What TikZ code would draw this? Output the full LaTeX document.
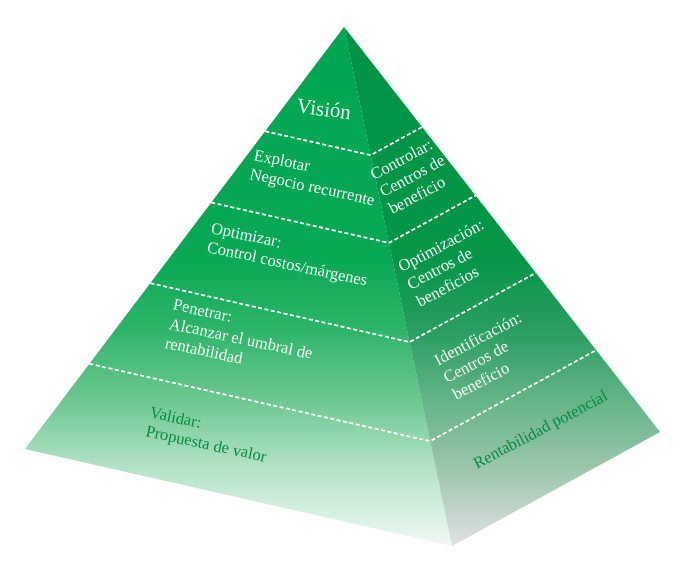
\documentclass[tikz,border=0pt]{standalone}
\usepackage{fontspec}
\setmainfont{Liberation Serif}
\usetikzlibrary{calc}

\definecolor{darkGreen}{RGB}{0,140,60}

% vertical shadings of the two faces (path box is mapped onto 25bp--75bp)
\pgfdeclareverticalshading{lftShade}{100bp}{%
  color(0bp)=(rgb,255:red,240;green,250;blue,245);
  color(25bp)=(rgb,255:red,240;green,250;blue,245);
  color(33bp)=(rgb,255:red,175;green,225;blue,195);
  color(39bp)=(rgb,255:red,110;green,200;blue,145);
  color(46bp)=(rgb,255:red,45;green,180;blue,105);
  color(53bp)=(rgb,255:red,8;green,168;blue,85);
  color(75bp)=(rgb,255:red,0;green,166;blue,81);
  color(100bp)=(rgb,255:red,0;green,166;blue,81)}
\pgfdeclareverticalshading{rgtShade}{100bp}{%
  color(0bp)=(rgb,255:red,225;green,225;blue,228);
  color(25bp)=(rgb,255:red,225;green,225;blue,228);
  color(32bp)=(rgb,255:red,160;green,200;blue,175);
  color(39bp)=(rgb,255:red,100;green,180;blue,135);
  color(46bp)=(rgb,255:red,40;green,157;blue,95);
  color(53bp)=(rgb,255:red,5;green,150;blue,72);
  color(75bp)=(rgb,255:red,0;green,148;blue,70);
  color(100bp)=(rgb,255:red,0;green,148;blue,70)}

\begin{document}
\begin{tikzpicture}[
  x=1pt, y=-1pt,
  cut/.style={white, line width=1.7pt, dash pattern=on 4pt off 2.5pt},
  lbl/.style={font=\fontsize{16.5}{19.5}\selectfont, align=left, text=white, inner sep=0pt},
  lface/.style={lbl, rotate=-12},
  rface/.style={lbl, rotate=28},
]
\useasboundingbox (0,0) rectangle (679,562);

% corners of the pyramid
\coordinate (apex) at (344,27);
\coordinate (lft)  at (25,449);
\coordinate (frt)  at (452,546);
\coordinate (rgt)  at (660,432);

% faces
\shade[shading=lftShade] (apex) -- (lft) -- (frt) -- cycle;
\shade[shading=rgtShade] (apex) -- (frt) -- (rgt) -- cycle;

% level boundaries
\foreach \t in {0.247,0.416,0.607,0.798}
  \draw[cut] ($(apex)!\t!(lft)$) -- ($(apex)!\t!(frt)$) -- ($(apex)!\t!(rgt)$);

% left face
\node[lbl, rotate=-8, font=\fontsize{21}{24}\selectfont] (vision) at (324,109) {Visión};
\node[lface] (explotar)  at (314,179) {Explotar\\Negocio recurrente};
\node[lface] (optimizar) at (289,256) {Optimizar:\\Control costos/márgenes};
\node[lface] (penetrar)  at (241,339) {Penetrar:\\Alcanzar el umbral de\\rentabilidad};
\node[lface, text=darkGreen] (validar) at (208,436) {Validar:\\Propuesta de valor};

% right face
\node[rface] (controlar)      at (412,176) {Controlar:\\Centros de\\beneficio};
\node[rface] (optimizacion)   at (450,263) {Optimización:\\Centros de\\beneficios};
\node[rface] (identificacion) at (487,356) {Identificación:\\Centros de\\beneficio};
\node[rface, text=darkGreen] (rentabilidad) at (541,431) {Rentabilidad potencial};

\end{tikzpicture}
\end{document}
